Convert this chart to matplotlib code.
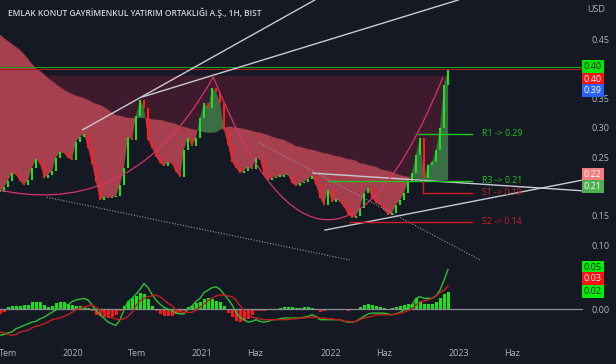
import matplotlib
matplotlib.use("Agg")
import matplotlib.pyplot as plt
import matplotlib.dates as mdates
from matplotlib.path import Path
from matplotlib.patches import PathPatch
import numpy as np
import pandas as pd

plt.rcParams['font.family'] = ['Open Sans', 'DejaVu Sans']

# ---- data --------------------------------------------------------------
start, end = '2019-06-08', '2022-11-30'
n_bars = 113

close = [
    0.191, 0.199, 0.210, 0.223, 0.220, 0.210, 0.203, 0.211, 0.232, 0.247,
    0.239, 0.215, 0.220, 0.227, 0.249, 0.259, 0.257, 0.249, 0.246, 0.276,
    0.285, 0.290, 0.266, 0.239, 0.208, 0.177, 0.182, 0.181, 0.182, 0.184,
    0.203, 0.232, 0.285, 0.280, 0.320, 0.348, 0.334, 0.280, 0.266, 0.251,
    0.240, 0.235, 0.242, 0.239, 0.225, 0.217, 0.263, 0.283, 0.269, 0.283,
    0.317, 0.343, 0.334, 0.368, 0.361, 0.343, 0.297, 0.271, 0.242, 0.232,
    0.223, 0.227, 0.234, 0.230, 0.249, 0.246, 0.220, 0.211, 0.215, 0.217,
    0.217, 0.220, 0.220, 0.206, 0.201, 0.206, 0.208, 0.213, 0.218, 0.203,
    0.181, 0.169, 0.194, 0.174, 0.179, 0.174, 0.165, 0.153, 0.147, 0.150,
    0.164, 0.189, 0.198, 0.181, 0.172, 0.169, 0.160, 0.152, 0.155, 0.169,
    0.177, 0.189, 0.208, 0.223, 0.254, 0.283, 0.215, 0.237, 0.242, 0.263,
    0.300, 0.373, 0.399,
]

slow_ma = [
    0.459, 0.453, 0.448, 0.443, 0.438, 0.433, 0.426, 0.418, 0.409, 0.402,
    0.397, 0.392, 0.385, 0.380, 0.375, 0.370, 0.365, 0.361, 0.358, 0.355,
    0.353, 0.351, 0.348, 0.344, 0.341, 0.339, 0.336, 0.331, 0.326, 0.322,
    0.321, 0.319, 0.317, 0.317, 0.317, 0.317, 0.317, 0.317, 0.315, 0.314,
    0.314, 0.312, 0.310, 0.309, 0.307, 0.303, 0.302, 0.300, 0.298, 0.297,
    0.295, 0.293, 0.292, 0.292, 0.293, 0.297, 0.300, 0.302, 0.302, 0.300,
    0.300, 0.298, 0.297, 0.295, 0.293, 0.292, 0.290, 0.288, 0.285, 0.283,
    0.281, 0.280, 0.276, 0.273, 0.269, 0.268, 0.266, 0.264, 0.263, 0.261,
    0.259, 0.257, 0.256, 0.254, 0.252, 0.251, 0.249, 0.247, 0.246, 0.244,
    0.240, 0.239, 0.237, 0.235, 0.234, 0.230, 0.228, 0.227, 0.225, 0.222,
    0.220, 0.218, 0.217, 0.215, 0.213, 0.213, 0.211, 0.211, 0.211, 0.211,
    0.211, 0.211, 0.211,
]

macd = [
    -0.032, -0.031, -0.029, -0.028, -0.024, -0.022, -0.020, -0.018, -0.016, -0.015,
    -0.012, -0.010, -0.007, -0.004, -0.001, 0.001, 0.004, 0.005, 0.009, 0.011,
    0.012, 0.013, 0.011, 0.005, -0.002, -0.007, -0.011, -0.016, -0.018, -0.020,
    -0.013, -0.001, 0.009, 0.013, 0.018, 0.024, 0.031, 0.026, 0.018, 0.011,
    0.006, 0.002, 0.000, -0.002, -0.005, -0.006, -0.006, 0.000, 0.004, 0.009,
    0.013, 0.020, 0.023, 0.026, 0.027, 0.024, 0.018, 0.012, 0.005, -0.004,
    -0.010, -0.013, -0.016, -0.015, -0.013, -0.015, -0.016, -0.015, -0.013, -0.013,
    -0.012, -0.011, -0.011, -0.011, -0.011, -0.011, -0.010, -0.009, -0.007, -0.009,
    -0.013, -0.013, -0.013, -0.013, -0.013, -0.013, -0.015, -0.016, -0.016, -0.015,
    -0.012, -0.009, -0.006, -0.005, -0.005, -0.005, -0.005, -0.006, -0.007, -0.006,
    -0.004, -0.001, 0.002, 0.005, 0.013, 0.015, 0.013, 0.013, 0.013, 0.016,
    0.023, 0.035, 0.048,
]

signal = [
    -0.028, -0.029, -0.031, -0.032, -0.031, -0.028, -0.027, -0.026, -0.023, -0.021,
    -0.020, -0.018, -0.016, -0.013, -0.012, -0.011, -0.009, -0.007, -0.004, -0.001,
    0.001, 0.002, 0.004, 0.005, 0.002, -0.001, -0.004, -0.007, -0.011, -0.012,
    -0.013, -0.012, -0.009, -0.004, 0.004, 0.010, 0.013, 0.015, 0.016, 0.017,
    0.015, 0.011, 0.007, 0.004, -0.001, -0.004, -0.004, -0.004, -0.004, -0.001,
    0.002, 0.006, 0.010, 0.013, 0.016, 0.017, 0.017, 0.016, 0.015, 0.011,
    0.004, -0.002, -0.006, -0.010, -0.011, -0.012, -0.013, -0.013, -0.013, -0.013,
    -0.013, -0.013, -0.013, -0.012, -0.012, -0.011, -0.011, -0.010, -0.010, -0.010,
    -0.011, -0.011, -0.012, -0.012, -0.013, -0.013, -0.015, -0.015, -0.016, -0.015,
    -0.013, -0.011, -0.010, -0.009, -0.007, -0.007, -0.007, -0.007, -0.007, -0.006,
    -0.005, -0.004, -0.002, 0.000, 0.005, 0.009, 0.010, 0.011, 0.013, 0.016,
    0.020, 0.023, 0.028,
]

hist = [
    -0.006, -0.004, 0.003, 0.004, 0.004, 0.004, 0.005, 0.005, 0.008, 0.008,
    0.008, 0.005, 0.003, 0.004, 0.007, 0.008, 0.008, 0.006, 0.005, 0.004,
    0.004, 0.003, 0.001, -0.003, -0.007, -0.009, -0.010, -0.011, -0.010, -0.007,
    -0.003, 0.004, 0.010, 0.013, 0.016, 0.019, 0.018, 0.012, 0.004, -0.003,
    -0.006, -0.008, -0.009, -0.008, -0.006, -0.004, -0.002, 0.002, 0.004, 0.007,
    0.009, 0.012, 0.013, 0.012, 0.010, 0.008, 0.004, -0.005, -0.010, -0.014,
    -0.016, -0.015, -0.012, -0.007, -0.003, -0.002, -0.002, -0.001, -0.001, 0.000,
    0.001, 0.002, 0.002, 0.002, 0.001, 0.001, 0.002, 0.002, 0.001, 0.000,
    -0.004, -0.002, -0.001, -0.001, -0.001, -0.001, -0.001, -0.002, -0.001, 0.000,
    0.002, 0.005, 0.006, 0.005, 0.004, 0.003, 0.001, 0.000, 0.001, 0.003,
    0.004, 0.005, 0.006, 0.006, 0.014, 0.010, 0.006, 0.006, 0.006, 0.008,
    0.013, 0.018, 0.021,
]

top_level = 0.39          # upper edge of the dark band
res_green, res_red = 0.404, 0.401

# drawn trend lines: (date, price) pairs
white_lines = [
    (['2020-01-29', '2021-11-17'], [0.297, 0.518]),
    (['2020-07-17', '2022-12-29'], [0.353, 0.518]),
    (['2021-12-16', '2023-12-15'], [0.126, 0.211]),
    (['2021-11-12', '2023-12-15'], [0.223, 0.193]),
]
dotted_lines = [
    (['2019-10-19', '2022-02-25'], [0.182, 0.075]),
    (['2021-06-09', '2023-03-01'], [0.276, 0.075]),
]
# cup arcs (bezier control points)
cup1 = (['2019-06-08', '2019-12-23', '2020-08-07', '2021-02-02'], [0.194, 0.169, 0.194, 0.387])
cup2 = (['2021-02-02', '2021-12-24', '2022-11-16'], [0.387, -0.100, 0.387])

levels = [  # name, value, start date, colour
    ('R1 -> 0.29', 0.29, '2022-09-06', '#1fc41f'),
    ('R3 -> 0.21', 0.21, '2021-12-24', '#1fc41f'),
    ('S1 -> 0.19', 0.19, '2022-09-20', '#d11f1f'),
    ('S2 -> 0.14', 0.14, '2022-02-25', '#d11f1f'),
]
level_end = '2023-02-07'
label_date = '2023-03-06'

price_ticks = [0.10, 0.15, 0.20, 0.25, 0.30, 0.35, 0.40, 0.45]
price_tick_labels = ['0.10', '0.15', '', '0.25', '0.30', '0.35', '', '0.45']
x_tick_dates = ['2019-07-01', '2020-01-01', '2020-07-01', '2021-01-01', '2021-06-01',
                '2022-01-01', '2022-06-01', '2023-01-01', '2023-06-01']
x_tick_labels = ['Tem', '2020', 'Tem', '2021', 'Haz', '2022', 'Haz', '2023', 'Haz']

# ---- figure ------------------------------------------------------------
bg = '#151924'
txt = '#b2b5be'
fig = plt.figure(figsize=(6.16, 3.64), dpi=100, facecolor=bg)
ax = fig.add_axes([0, 1 - 260 / 364, 583 / 616, 260 / 364], facecolor=bg)
ax2 = fig.add_axes([0, 1 - 342 / 364, 583 / 616, 80 / 364], facecolor=bg, sharex=ax)

d = lambda s: mdates.datestr2num(s)
x = mdates.date2num(pd.date_range(start, end, periods=n_bars))
c = np.array(close)
ma = np.array(slow_ma)
o = np.r_[c[0], c[:-1]]

ax.fill_between(x, ma, top_level, where=ma < top_level, interpolate=True,
                color='#3d1b2c', lw=0, zorder=1)
ax.fill_between(x, c, ma, where=ma >= c, interpolate=True, color='#a63f4e', lw=0, zorder=2)
ax.fill_between(x, c, ma, where=c > ma, interpolate=True, color='#3c6e46', lw=0, zorder=2)

up = c >= o
w = (x[1] - x[0]) * 0.38
body = np.maximum(np.abs(c - o), 0.002)
ax.bar(x, body, bottom=np.minimum(c, o), width=w,
       color=np.where(up, '#19e619', '#ff1f1f'), lw=0, zorder=4)

ax.axhline(res_green, color='#1fa01f', lw=0.8, zorder=3)
ax.axhline(res_red, color='#b01c1c', lw=0.8, zorder=3)

for xs, ys in white_lines:
    ax.plot(d(xs), ys, color='#c9cbd2', lw=1.0, zorder=5)
for xs, ys in dotted_lines:
    ax.plot(d(xs), ys, color='#9598a1', lw=0.8, ls=(0, (1, 1.5)), zorder=5)

xs, ys = cup1
ax.add_patch(PathPatch(Path(np.column_stack([d(xs), ys]),
                            [Path.MOVETO, Path.CURVE4, Path.CURVE4, Path.CURVE4]),
                       fill=False, ec='#d6336c', lw=0.9, zorder=5))
xs, ys = cup2
ax.add_patch(PathPatch(Path(np.column_stack([d(xs), ys]),
                            [Path.MOVETO, Path.CURVE3, Path.CURVE3]),
                       fill=False, ec='#d6336c', lw=0.9, zorder=5))

for name, val, s, col in levels:
    ax.plot([d(s), d(level_end)], [val, val], color=col, lw=1.0, zorder=5)
    ax.text(d(label_date), val, name, color=col, fontsize=6.3, va='center', zorder=6)
ax.plot([d('2022-09-20'), d('2022-09-20')], [0.21, 0.19], color='#d11f1f', lw=1.0, zorder=5)

ax.set_xlim(d('2019-06-08'), d('2023-12-18'))
ax.set_ylim(0.075, 0.518)
ax.yaxis.tick_right()
ax.set_yticks(price_ticks)
ax.set_yticklabels(price_tick_labels)
ax.tick_params(axis='y', length=0, pad=6, labelsize=6.5, colors=txt)
ax.tick_params(axis='x', length=0, labelbottom=False)
for s in ax.spines.values():
    s.set_visible(False)


def tag(axis, y, label, face, fc):
    axis.text(1.0015, y, label, transform=axis.get_yaxis_transform(), fontsize=6.5,
              color=fc, va='center', ha='left', zorder=10, clip_on=False,
              bbox=dict(boxstyle='square,pad=0.22', fc=face, ec='none'))


tag(ax, 0.404, '0.40', '#00e600', '#131722')
tag(ax, 0.383, '0.40', '#ff1010', '#ffffff')
tag(ax, 0.363, '0.39', '#2962ff', '#ffffff')
tag(ax, 0.221, '0.22', '#f77c80', '#ffffff')
tag(ax, 0.200, '0.21', '#4caf50', '#ffffff')
ax.text(1.0225, 0.965, 'USD', transform=ax.transAxes, fontsize=6.5, color=txt,
        ha='center', va='center', clip_on=False)

# ---- MACD pane ---------------------------------------------------------
h = np.array(hist)
ax2.bar(x, h, width=(x[1] - x[0]) * 0.75, color=np.where(h >= 0, '#14e614', '#ff1a1a'), lw=0)
ax2.axhline(0, color='#8a8d96', lw=0.9)
ax2.plot(x, macd, color='#2fc22f', lw=1.0)
ax2.plot(x, signal, color='#c41e1e', lw=1.0)
ax2.set_ylim(-0.0402, 0.0573)
ax2.yaxis.tick_right()
ax2.set_yticks([0.0])
ax2.set_yticklabels(['0.00'])
ax2.tick_params(axis='y', length=0, pad=6, labelsize=6.5, colors=txt)
ax2.set_xticks(d(x_tick_dates))
ax2.set_xticklabels(x_tick_labels)
ax2.tick_params(axis='x', length=0, pad=5, labelsize=6.5, colors=txt)
for s in ax2.spines.values():
    s.set_visible(False)

tag(ax2, 0.0506, '0.05', '#00f000', '#131722')
tag(ax2, 0.0366, '0.03', '#ff1010', '#ffffff')
tag(ax2, 0.0219, '0.02', '#00f000', '#131722')

fig.text(8 / 616, 1 - 13 / 364, 'EMLAK KONUT GAYRİMENKUL YATIRIM ORTAKLIĞI A.Ş., 1H, BIST',
         fontsize=6.0, fontweight='semibold', color='#d1d4dc', va='center', ha='left')

fig.savefig('out.png', dpi=100, facecolor=bg)
